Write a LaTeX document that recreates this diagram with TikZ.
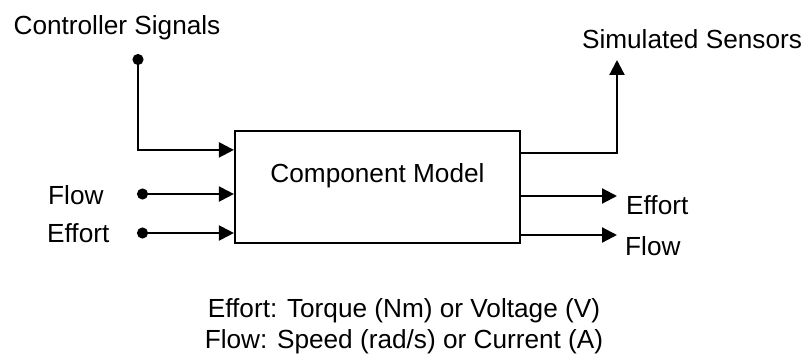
\documentclass[tikz,border=0pt]{standalone}
\usepackage{fontspec}
\setmainfont{Liberation Sans}
\usetikzlibrary{arrows.meta}
\begin{document}
\begin{tikzpicture}[x=1pt,y=-1pt,
  every node/.style={font=\fontsize{26.2}{31}\selectfont, inner sep=0pt},
  wire/.style={line width=2.2pt},
  arr/.style={wire,-{Triangle[length=15pt,width=15pt]}},
  dotted start/.style={wire,{Circle[length=11pt]}-{Triangle[length=15pt,width=15pt]}},
  box/.style={draw,line width=2.2pt,minimum width=285pt,minimum height=112pt}]
\useasboundingbox (0,0) rectangle (806,361);
\node[box] (model) at (377.5,187) {};
\node (modellabel) at (377.5,176) {Component Model};
\node (ctrl) at (117,28) {Controller Signals};
\node (sens) at (692,39) {Simulated Sensors};
\node[anchor=west] (flowin) at (48,195) {Flow};
\node[anchor=west] (effin) at (47,233) {Effort};
\node[anchor=west] (effout) at (626,205) {Effort};
\node[anchor=west] (flowout) at (625,246) {Flow};
\node[align=center] (legend) at (404,326) {Effort: Torque (Nm) or Voltage (V)\\Flow: Speed (rad/s) or Current (A)};
\coordinate (cdot) at (138,54);
\coordinate (fdot) at (137,194);
\coordinate (edot) at (137,233);
\coordinate (stip) at (617,60);
\coordinate (eend) at (617,196);
\coordinate (fend) at (617,235);
\draw[dotted start] (cdot) |- ([yshift=-20pt]model.north west);
\draw[dotted start] (fdot) -- (fdot -| model.west);
\draw[dotted start] (edot) -- (edot -| model.west);
\draw[arr] ([yshift=-23pt]model.north east) -| (stip);
\draw[arr] (eend -| model.east) -- (eend);
\draw[arr] (fend -| model.east) -- (fend);
\end{tikzpicture}
\end{document}
